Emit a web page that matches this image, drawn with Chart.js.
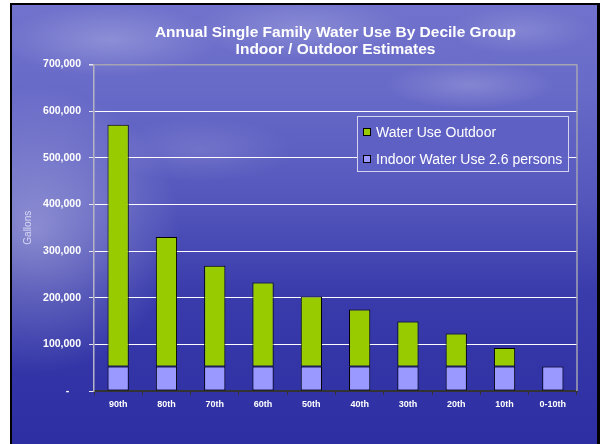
<!DOCTYPE html>
<html>
<head>
<meta charset="utf-8">
<script src="https://cdn.jsdelivr.net/npm/chart.js@4.4.1/dist/chart.umd.min.js"></script>
<style>
    body { margin: 0; background: #ffffff; }
    #grafico { display: block; }
</style>
</head>
<body>
<canvas id="grafico" width="600" height="444"></canvas>
<script>
const decis = ['90th', '80th', '70th', '60th', '50th', '40th', '30th', '20th', '10th', '0-10th'];
const usoInterno = [52500, 52500, 52500, 52500, 52500, 52500, 52500, 52500, 52500, 52500];
const usoExterno = [518500, 277500, 216000, 180000, 150000, 122000, 96500, 71000, 39500, 0];
const tituloLinhas = ['Annual Single Family Water Use By Decile Group', 'Indoor / Outdoor Estimates'];

const fonte = "'Liberation Sans', Arial, sans-serif";

// fundo azul com nuvens
const fundoSlide = {
    id: 'fundoSlide',
    beforeDraw(chart) {
        const ctx = chart.ctx;
        ctx.save();
        ctx.fillStyle = '#ffffff';
        ctx.fillRect(0, 0, 600, 444);
        ctx.fillStyle = '#000000';
        ctx.fillRect(10, 3, 590, 441);

        const grad = ctx.createLinearGradient(0, 5, 0, 444);
        grad.addColorStop(0, 'rgb(112,114,204)');
        grad.addColorStop(0.2, 'rgb(104,106,200)');
        grad.addColorStop(0.45, 'rgb(84,86,188)');
        grad.addColorStop(0.65, 'rgb(58,60,172)');
        grad.addColorStop(1, 'rgb(44,46,162)');
        ctx.fillStyle = grad;
        ctx.fillRect(12, 5, 585, 439);

        ctx.beginPath();
        ctx.rect(12, 5, 585, 439);
        ctx.clip();

        const manchas = [
            [35, 230, 120, 1.0, 0.35],
            [110, 40, 90, 3.0, 0.22],
            [300, 28, 90, 3.5, 0.18],
            [470, 85, 70, 3.5, 0.18],
            [200, 150, 80, 3.0, 0.12],
            [520, 30, 60, 3.0, 0.15]
        ];
        manchas.forEach(m => {
            ctx.save();
            ctx.translate(m[0], m[1]);
            ctx.scale(m[3], 1);
            const rg = ctx.createRadialGradient(0, 0, 0, 0, 0, m[2] / m[3] * 1.2);
            rg.addColorStop(0, `rgba(255,255,255,${m[4]})`);
            rg.addColorStop(1, 'rgba(255,255,255,0)');
            ctx.fillStyle = rg;
            ctx.beginPath();
            ctx.arc(0, 0, m[2] / m[3] * 1.2, 0, Math.PI * 2);
            ctx.fill();
            ctx.restore();
        });
        ctx.restore();
    }
};

// borda da direita e legenda dentro do grafico
const legendaCaixa = {
    id: 'legendaCaixa',
    afterDatasetsDraw(chart) {
        const ctx = chart.ctx;
        const area = chart.chartArea;
        ctx.save();
        ctx.strokeStyle = '#a4a4b4';
        ctx.lineWidth = 1.5;
        ctx.beginPath();
        ctx.moveTo(area.right, area.top);
        ctx.lineTo(area.right, area.bottom);
        ctx.stroke();

        ctx.fillStyle = 'rgba(94,96,196,0.95)';
        ctx.fillRect(357, 116, 212, 56);
        ctx.strokeStyle = 'rgba(225,225,245,0.9)';
        ctx.lineWidth = 1;
        ctx.strokeRect(357.5, 116.5, 211, 55);

        const itens = chart.data.datasets.slice().reverse();
        itens.forEach((ds, i) => {
            const y = 132 + i * 27;
            ctx.fillStyle = ds.backgroundColor;
            ctx.fillRect(363, y - 4, 8, 8);
            ctx.strokeStyle = '#000000';
            ctx.strokeRect(363.5, y - 3.5, 7, 7);
            ctx.fillStyle = '#ffffff';
            ctx.font = '14px ' + fonte;
            ctx.textBaseline = 'middle';
            ctx.fillText(ds.label, 376, y + 1);
        });
        ctx.restore();
    }
};

const canva = document.getElementById('grafico').getContext('2d');
const grafico = new Chart(canva, {
    type: 'bar',
    data: {
        labels: decis,
        datasets: [{
            label: 'Indoor Water Use 2.6 persons',
            data: usoInterno,
            backgroundColor: '#9999ff',
            borderColor: '#000000',
            borderWidth: 1,
            borderSkipped: false
        }, {
            label: 'Water Use Outdoor',
            data: usoExterno,
            backgroundColor: '#99cc00',
            borderColor: '#000000',
            borderWidth: 1,
            borderSkipped: false
        }]
    },
    options: {
        responsive: false,
        animation: false,
        devicePixelRatio: 1,
        layout: { padding: { left: 12, right: 23, top: 0, bottom: 0 } },
        datasets: {
            bar: { barPercentage: 0.44, categoryPercentage: 1 }
        },
        plugins: {
            legend: { display: false },
            tooltip: { enabled: false },
            title: {
                display: true,
                text: tituloLinhas,
                fullSize: false,
                color: '#ffffff',
                font: { family: fonte, size: 15.5, weight: 'bold', lineHeight: 1.1 },
                padding: { top: 24.5, bottom: 5.9 }
            }
        },
        scales: {
            x: {
                stacked: true,
                afterFit(scale) { scale.height = 53; },
                border: { display: true, color: '#333333', width: 2 },
                grid: {
                    offset: true,
                    drawOnChartArea: false,
                    drawTicks: true,
                    tickLength: 4,
                    color: '#333333'
                },
                ticks: {
                    color: '#ffffff',
                    padding: 4,
                    font: { family: fonte, size: 9, weight: 'bold' }
                }
            },
            y: {
                stacked: true,
                min: 0,
                max: 700000,
                afterFit(scale) { scale.width = 82; },
                border: { display: true, color: '#b4b4c4', width: 1.5 },
                grid: {
                    color: ctx => ctx.tick.value === 700000 ? '#a4a4b4' : (ctx.tick.value === 0 ? 'rgba(0,0,0,0)' : '#ffffff'),
                    tickColor: '#e8e8f8',
                    lineWidth: ctx => ctx.tick.value === 700000 ? 1.5 : 1,
                    tickLength: 5
                },
                ticks: {
                    stepSize: 100000,
                    color: '#ffffff',
                    padding: 8,
                    font: { family: fonte, size: 10.5, weight: 'bold' },
                    callback: valor => valor === 0 ? '-    ' : valor.toLocaleString('en-US')
                },
                title: {
                    display: true,
                    text: 'Gallons',
                    color: 'rgba(235,235,255,0.8)',
                    font: { family: fonte, size: 10 },
                    padding: { top: 10, bottom: 0 }
                }
            }
        }
    },
    plugins: [fundoSlide, legendaCaixa]
});
</script>
</body>
</html>
